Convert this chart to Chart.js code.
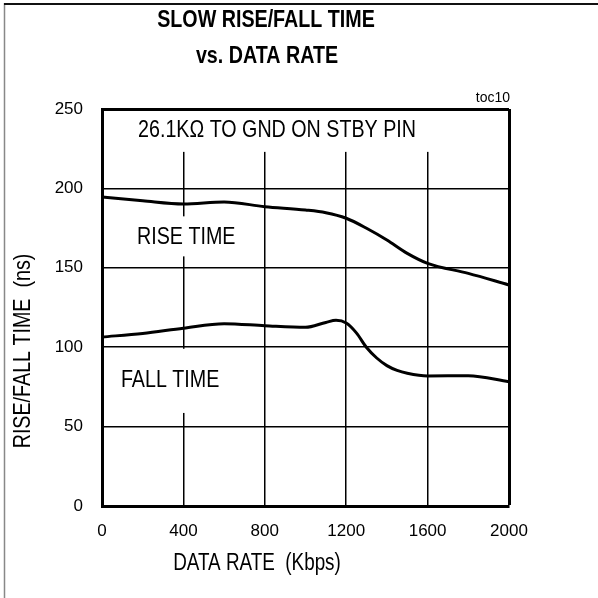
<!DOCTYPE html>
<html>
<head>
<meta charset="utf-8">
<script src="https://cdn.jsdelivr.net/npm/chart.js@4.4.1/dist/chart.umd.min.js"></script>
<style>
  html, body { margin: 0; padding: 0; background: #fff; }
  canvas { display: block; }
</style>
</head>
<body>
<canvas id="grafico" width="598" height="598"></canvas>
<script>
const SANS = '"Liberation Sans", Arial, sans-serif';
const ESTRECHO = 0.82; // ancho tipo Arial Narrow

// datos (Kbps -> ns)
const subidaX = [0, 200, 400, 600, 800, 1000, 1100, 1200, 1300, 1400, 1500, 1600, 1800, 2000];
const subidaY = [194.6, 192.2, 190.2, 191.4, 188.5, 186.4, 184.7, 181.2, 174.9, 167.5, 159.1, 152.8, 146.5, 139.2];

const bajadaX = [0, 200, 400, 600, 800, 1000, 1100, 1150, 1200, 1250, 1300, 1350, 1400, 1450, 1500, 1600, 1800, 2000];
const bajadaY = [106.4, 108.7, 112.0, 114.8, 113.5, 112.5, 115.6, 116.9, 115.2, 109.0, 99.8, 93.2, 88.4, 85.4, 83.6, 81.9, 82.1, 78.3];

const ticksX = [0, 400, 800, 1200, 1600, 2000];
const ticksY = [0, 50, 100, 150, 200, 250];

const titulo = ["SLOW RISE/FALL TIME", "vs. DATA RATE"];
const tituloX = "DATA RATE  (Kbps)";
const tituloY = "RISE/FALL TIME  (ns)";
const nota = "26.1K\u03A9 TO GND ON STBY PIN";
const etiquetaSubida = "RISE TIME";
const etiquetaBajada = "FALL TIME";
const codigo = "toc10";

const puntos = (xs, ys) => xs.map((x, i) => ({ x: x, y: ys[i] }));

function cajaBlanca(ctx, x1, y1, x2, y2) {
    ctx.fillStyle = "#fff";
    ctx.fillRect(x1, y1, x2 - x1, y2 - y1);
}

// texto comprimido horizontalmente, devuelve el ancho real
function textoEstrecho(ctx, texto, x, y, font, align, giro) {
    ctx.save();
    ctx.font = font;
    ctx.textAlign = align;
    ctx.textBaseline = "middle";
    ctx.fillStyle = "#000";
    ctx.translate(x, y);
    if (giro) ctx.rotate(giro);
    ctx.scale(ESTRECHO, 1);
    ctx.fillText(texto, 0, 0);
    const w = ctx.measureText(texto).width * ESTRECHO;
    ctx.restore();
    return w;
}

function anchoEstrecho(ctx, texto, font) {
    ctx.save();
    ctx.font = font;
    const w = ctx.measureText(texto).width * ESTRECHO;
    ctx.restore();
    return w;
}

const rotulos = {
    id: "rotulos",
    beforeDraw(chart) {
        const ctx = chart.ctx;
        ctx.save();
        ctx.fillStyle = "#fff";
        ctx.fillRect(0, 0, chart.width, chart.height);
        // marco de la hoja
        ctx.strokeStyle = "#888";
        ctx.lineWidth = 1.5;
        ctx.beginPath();
        ctx.moveTo(4.5, 3);
        ctx.lineTo(4.5, chart.height);
        ctx.stroke();
        ctx.strokeStyle = "#111";
        ctx.lineWidth = 2;
        ctx.beginPath();
        ctx.moveTo(4, 4);
        ctx.lineTo(chart.width, 4);
        ctx.stroke();
        ctx.restore();
    },
    beforeDatasetsDraw(chart) {
        const { ctx, chartArea: a, scales: { x, y } } = chart;
        const fuente = "24px " + SANS;
        // caja de la nota superior
        cajaBlanca(ctx, a.left + 2, a.top + 2, a.right - 2, y.getPixelForValue(223));
        textoEstrecho(ctx, nota, x.getPixelForValue(177), y.getPixelForValue(236.5), "24px " + SANS, "left");

        let w = anchoEstrecho(ctx, etiquetaSubida, fuente);
        let px = x.getPixelForValue(172);
        cajaBlanca(ctx, px - 2, y.getPixelForValue(182.4), px + w + 2, y.getPixelForValue(157.2));
        textoEstrecho(ctx, etiquetaSubida, px, y.getPixelForValue(169.4), fuente, "left");

        w = anchoEstrecho(ctx, etiquetaBajada, fuente);
        px = x.getPixelForValue(93);
        cajaBlanca(ctx, px - 2, y.getPixelForValue(99), px + w + 2, y.getPixelForValue(58.6));
        textoEstrecho(ctx, etiquetaBajada, px, y.getPixelForValue(79.3), fuente, "left");
    },
    afterDraw(chart) {
        const { ctx, chartArea: a } = chart;
        textoEstrecho(ctx, titulo[0], 266, 20, "bold 24px " + SANS, "center");
        textoEstrecho(ctx, titulo[1], 267, 56, "bold 24px " + SANS, "center");

        ctx.save();
        ctx.fillStyle = "#000";
        ctx.textBaseline = "middle";
        ctx.font = "14px " + SANS;
        ctx.textAlign = "right";
        ctx.fillText(codigo, a.right + 1, a.top - 11);
        ctx.restore();

        textoEstrecho(ctx, tituloX, 257, a.bottom + 58, "23px " + SANS, "center");
        textoEstrecho(ctx, tituloY, 23, 351, "24px " + SANS, "center", -Math.PI / 2);
    }
};

new Chart(document.getElementById("grafico"), {
    type: "line",
    data: {
        datasets: [
            {
                label: etiquetaSubida,
                data: puntos(subidaX, subidaY),
                borderColor: "#000",
                borderWidth: 3,
                pointRadius: 0,
                cubicInterpolationMode: "monotone",
                fill: false
            },
            {
                label: etiquetaBajada,
                data: puntos(bajadaX, bajadaY),
                borderColor: "#000",
                borderWidth: 3,
                pointRadius: 0,
                cubicInterpolationMode: "monotone",
                fill: false
            }
        ]
    },
    options: {
        responsive: false,
        animation: false,
        devicePixelRatio: 1,
        layout: { padding: { top: 109, right: 89, left: 0, bottom: 0 } },
        plugins: {
            legend: { display: false },
            title: { display: false },
            tooltip: { enabled: false }
        },
        scales: {
            x: {
                type: "linear",
                min: 0,
                max: 2000,
                afterFit: s => { s.height = 92; },
                afterBuildTicks: s => { s.ticks = ticksX.map(v => ({ value: v })); },
                ticks: {
                    color: "#000", padding: 15, maxRotation: 0,
                    font: { family: SANS, size: 17 },
                    callback: v => String(v)
                },
                grid: {
                    color: "#000",
                    drawTicks: false,
                    lineWidth: c => (c.tick && c.tick.value === 2000 ? 3 : 1.5)
                },
                border: { display: true, color: "#000", width: 3 }
            },
            y: {
                type: "linear",
                min: 0,
                max: 250,
                afterFit: s => { s.width = 102; },
                afterBuildTicks: s => { s.ticks = ticksY.map(v => ({ value: v })); },
                ticks: {
                    color: "#000", padding: 19,
                    font: { family: SANS, size: 17 },
                    callback: v => String(v)
                },
                grid: {
                    color: "#000",
                    drawTicks: false,
                    lineWidth: c => (c.tick && c.tick.value === 250 ? 3 : 1.5)
                },
                border: { display: true, color: "#000", width: 3 }
            }
        }
    },
    plugins: [rotulos]
});
</script>
</body>
</html>
